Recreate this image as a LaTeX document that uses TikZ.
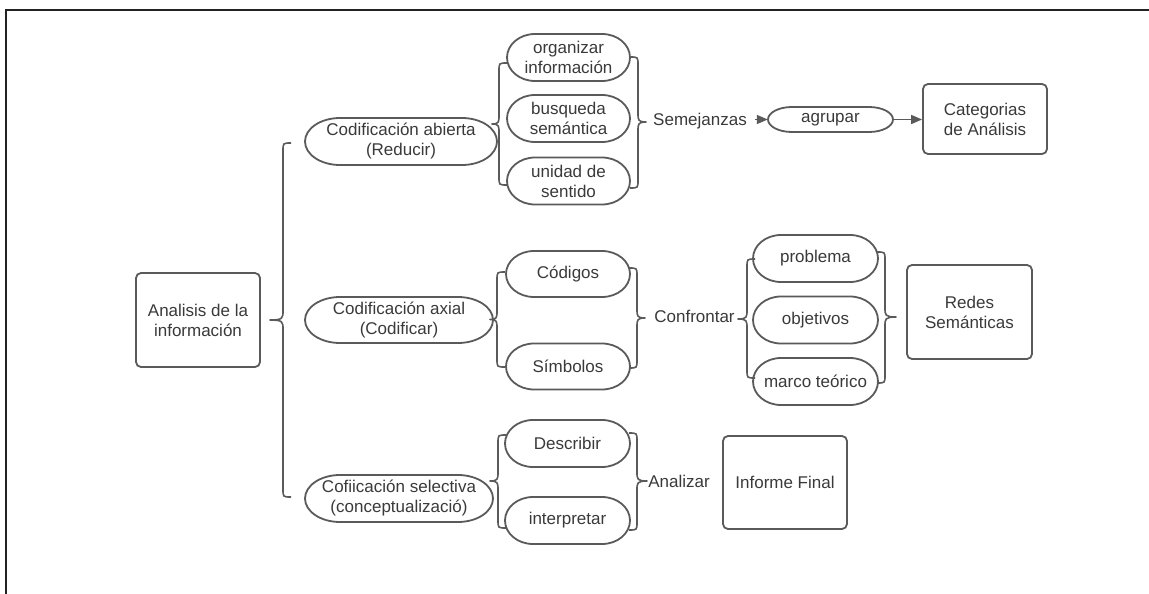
\documentclass[tikz,border=0pt]{standalone}
\usepackage{fontspec}
\setmainfont{Liberation Sans}
\usetikzlibrary{arrows.meta}
\definecolor{lc}{HTML}{5A5A5A}
\definecolor{tc}{HTML}{3A3A3A}
\definecolor{fc}{HTML}{222222}
\tikzset{
 shp/.style={draw=lc, line width=1.8pt},
 txt/.style={text=tc, font=\fontsize{17}{20}\selectfont, align=center, inner sep=0pt},
 boxnode/.style={shp, rounded corners=5pt, txt},
 brc/.style={draw=lc, line width=1.6pt, line join=round},
 arr/.style={draw=lc, line width=1.6pt, -{Triangle[length=11pt,width=9pt]}},
 framel/.style={draw=fc, line width=1.6pt},
}
% name, cx, cy, w, h, rx, text
\newcommand\capsule[7]{%
 \pgfmathsetmacro\hh{#5/2}%
 \draw[shp] (#2-#4/2+#6,#3-\hh) arc[start angle=90,end angle=270,x radius=#6pt,y radius=\hh pt]
   -- (#2+#4/2-#6,#3+\hh) arc[start angle=270,end angle=450,x radius=#6pt,y radius=\hh pt] -- cycle;
 \node[txt, minimum width=#4pt, minimum height=#5pt] (#1) at (#2,#3) {#7};}
% x, ytop, ybot, tipx, tipy
\newcommand\bracel[5]{%
 \draw[brc] (#1+8,#2) .. controls (#1,#2) .. (#1,#2+8) -- (#1,#5-9)
  .. controls (#1,#5-2) and (#1,#5) .. (#4,#5)
  .. controls (#1,#5) and (#1,#5+2) .. (#1,#5+9) -- (#1,#3-8) .. controls (#1,#3) .. (#1+8,#3);}
\newcommand\bracer[5]{%
 \draw[brc] (#1-8,#2) .. controls (#1,#2) .. (#1,#2+8) -- (#1,#5-9)
  .. controls (#1,#5-2) and (#1,#5) .. (#4,#5)
  .. controls (#1,#5) and (#1,#5+2) .. (#1,#5+9) -- (#1,#3-8) .. controls (#1,#3) .. (#1-8,#3);}
\begin{document}
\begin{tikzpicture}[x=1pt,y=-1pt]
\useasboundingbox (0,0) rectangle (1149,594);
\fill[white] (0,0) rectangle (1149,594);
\draw[framel] (1149,10) -- (6,10) -- (6,594);

% boxes
\node[boxnode, minimum width=124pt, minimum height=94pt] (ana) at (198,320) {Analisis de la\\información};
\node[boxnode, minimum width=124pt, minimum height=70pt] (cat) at (985,119) {Categorias\\de Análisis};
\node[boxnode, minimum width=125pt, minimum height=94pt] (red) at (969.5,312) {Redes\\Semánticas};
\node[boxnode, minimum width=124pt, minimum height=93pt] (inf) at (785,482.5) {Informe Final};

% main capsules
\capsule{cab}{401}{141.5}{192}{47}{35}{Codificación abierta\\(Reducir)}
\capsule{cax}{399}{320}{188}{46}{35}{Codificación axial\\(Codificar)}
\capsule{csel}{399}{498.5}{188}{47}{35}{Cofiicación selectiva\\(conceptualizació)}

% group 1
\capsule{org}{568.5}{57.5}{123}{47}{28}{organizar\\información}
\capsule{bus}{568.5}{118.5}{123}{47}{28}{busqueda\\semántica}
\capsule{uni}{568.5}{181}{123}{47}{28}{unidad de\\sentido}
\capsule{agr}{830.5}{119.5}{125}{25}{24}{agrupar}

% group 2
\capsule{cod}{568}{274}{124}{46}{28}{Códigos}
\capsule{sim}{568}{366.5}{124}{46}{28}{Símbolos}
\capsule{pro}{815.5}{258.5}{125}{47}{28}{problema}
\capsule{obj}{815.5}{320}{125}{47}{28}{objetivos}
\capsule{mar}{815.5}{381.5}{125}{47}{28}{marco teórico}

% group 3
\capsule{des}{567.5}{443.5}{125}{47}{28}{Describir}
\capsule{int}{567.5}{520.5}{125}{47}{28}{interpretar}

% labels
\node[txt] (sem) at (700,121) {Semejanzas};
\node[txt] (con) at (694.5,316) {Confrontar};
\node[txt] (anl) at (679,481) {Analizar};

% braces
\bracel{283}{143}{497}{270}{320}
\bracel{499}{63}{185}{492}{124}
\bracer{638}{57}{188}{646}{122}
\bracel{497}{272}{367}{490}{319.5}
\bracer{637}{268}{368}{645}{318}
\bracel{747}{259}{378}{738}{319}
\bracer{885}{252}{383}{896}{317}
\bracel{498}{435}{528}{490}{481}
\bracer{637}{433}{530}{647}{481}

% arrows
\coordinate (sa) at ([xshift=8pt]sem.east);
\draw[arr] (sa |- agr.west) -- (agr.west);
\draw[arr] (agr.east) -- (cat.west |- agr.east);
\end{tikzpicture}
\end{document}
